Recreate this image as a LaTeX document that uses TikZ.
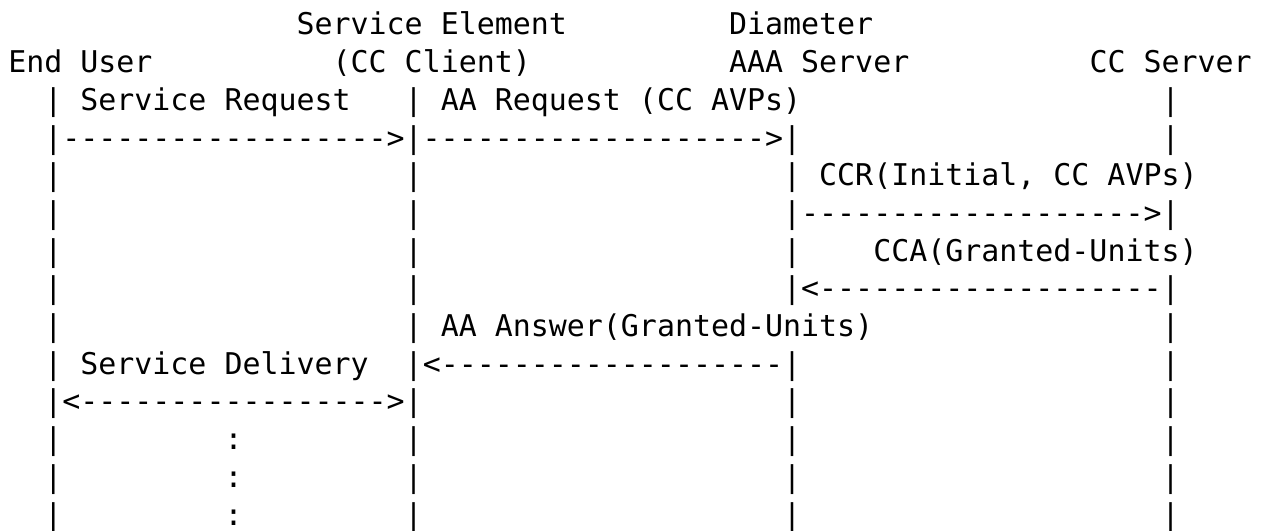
\documentclass[tikz,border=0pt]{standalone}
\usepackage{fontspec}
\setmonofont{DejaVu Sans Mono}
\tikzset{
  txt/.style={anchor=base west, inner sep=0pt, outer sep=0pt,
    font=\ttfamily\fontsize{29.93pt}{37.7pt}\selectfont, text=black}
}
% \seg{name}{column}{row}{text}
\newcommand\seg[4]{\node[txt] (#1) at ({(8.3+18.02*#2)*1pt},{(495-37.7*(#3-1))*1pt}) {#4};}
\begin{document}
\begin{tikzpicture}
\fill[white] (0,0) rectangle (1268pt,530pt);
\useasboundingbox (0,0) rectangle (1268pt,530pt);
% row 1
\seg{se}{16}{1}{Service Element}
\seg{dia}{40}{1}{Diameter}
% row 2
\seg{eu}{0}{2}{End User}
\seg{ccc}{18}{2}{(CC Client)}
\seg{aaa}{40}{2}{AAA Server}
\seg{ccs}{60}{2}{CC Server}
% row 3
\seg{r3a}{2}{3}{|}
\seg{r3b}{4}{3}{Service Request}
\seg{r3c}{22}{3}{|}
\seg{r3d}{24}{3}{AA Request (CC AVPs)}
\seg{r3e}{64}{3}{|}
% row 4
\seg{r4a}{2}{4}{|------------------>|------------------->|}
\seg{r4b}{64}{4}{|}
% row 5
\seg{r5a}{2}{5}{|}
\seg{r5b}{22}{5}{|}
\seg{r5c}{43}{5}{|}
\seg{r5d}{45}{5}{CCR(Initial, CC AVPs)}
% row 6
\seg{r6a}{2}{6}{|}
\seg{r6b}{22}{6}{|}
\seg{r6c}{43}{6}{|------------------->|}
% row 7
\seg{r7a}{2}{7}{|}
\seg{r7b}{22}{7}{|}
\seg{r7c}{43}{7}{|}
\seg{r7d}{48}{7}{CCA(Granted-Units)}
% row 8
\seg{r8a}{2}{8}{|}
\seg{r8b}{22}{8}{|}
\seg{r8c}{43}{8}{|<-------------------|}
% row 9
\seg{r9a}{2}{9}{|}
\seg{r9b}{22}{9}{|}
\seg{r9c}{24}{9}{AA Answer(Granted-Units)}
\seg{r9d}{64}{9}{|}
% row 10
\seg{r10a}{2}{10}{|}
\seg{r10b}{4}{10}{Service Delivery}
\seg{r10c}{22}{10}{|<-------------------|}
\seg{r10d}{64}{10}{|}
% row 11
\seg{r11a}{2}{11}{|<----------------->|}
\seg{r11b}{43}{11}{|}
\seg{r11c}{64}{11}{|}
% rows 12-14
\seg{r12a}{2}{12}{|}
\seg{r12b}{12}{12}{:}
\seg{r12c}{22}{12}{|}
\seg{r12d}{43}{12}{|}
\seg{r12e}{64}{12}{|}
\seg{r13a}{2}{13}{|}
\seg{r13b}{12}{13}{:}
\seg{r13c}{22}{13}{|}
\seg{r13d}{43}{13}{|}
\seg{r13e}{64}{13}{|}
\seg{r14a}{2}{14}{|}
\seg{r14b}{12}{14}{:}
\seg{r14c}{22}{14}{|}
\seg{r14d}{43}{14}{|}
\seg{r14e}{64}{14}{|}
\end{tikzpicture}
\end{document}
